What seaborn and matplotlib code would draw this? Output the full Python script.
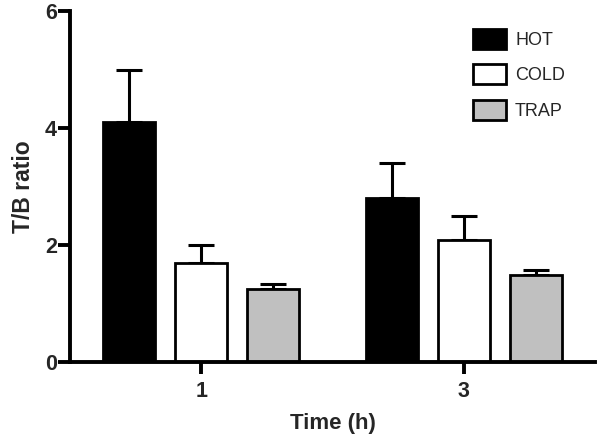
import matplotlib
matplotlib.use("Agg")
import matplotlib.pyplot as plt
from matplotlib.patches import Patch
import numpy as np
import pandas as pd
import seaborn as sns

# values (mean and upper SD)
times = ["1", "3"]
groups = ["HOT", "COLD", "TRAP"]
hot_mean = [4.10, 2.80]
hot_err = [0.90, 0.60]
cold_mean = [1.70, 2.08]
cold_err = [0.30, 0.42]
trap_mean = [1.24, 1.48]
trap_err = [0.10, 0.10]
colors = ["#000000", "#ffffff", "#c0c0c0"]

means = [hot_mean, cold_mean, trap_mean]
errs = [hot_err, cold_err, trap_err]
rows = []
for g, m_list, e_list in zip(groups, means, errs):
    for t, m, e in zip(times, m_list, e_list):
        rows.append({"time": t, "group": g, "ratio": m, "err": e})
df = pd.DataFrame(rows)

sns.set_style("ticks")
plt.rcParams["font.family"] = ["Liberation Sans", "DejaVu Sans"]

fig = plt.figure(figsize=(6.02, 4.41), dpi=100)
ax = fig.add_axes([70 / 602, 79 / 441, 525 / 602, 351 / 441])

sns.barplot(data=df, x="time", y="ratio", hue="group", hue_order=groups,
            order=times, palette=colors, width=0.825, gap=0.28,
            edgecolor="black", linewidth=2, errorbar=None, legend=False, ax=ax)

# upper-only error bars at the bar centres seaborn placed
bars = [p for p in ax.patches if p.get_height() > 0]
for bar, (_, row) in zip(bars, df.iterrows()):
    cx = bar.get_x() + bar.get_width() / 2
    ax.errorbar(cx, row["ratio"], yerr=[[0], [row["err"]]], fmt="none",
                ecolor="black", elinewidth=2.2, capsize=9.5, capthick=2.2,
                zorder=0.9)

ax.set_xlim(-0.5, 1.5)
ax.set_ylim(0, 6)
ax.set_yticks([0, 2, 4, 6])
sns.despine(ax=ax)
for side in ["left", "bottom"]:
    ax.spines[side].set_linewidth(2.8)
    ax.spines[side].set_color("black")
ax.tick_params(axis="both", length=8.5, width=2.8, color="black",
               labelsize=15.5)
ax.tick_params(axis="x", pad=5)
ax.tick_params(axis="y", pad=1)
for lbl in ax.get_xticklabels() + ax.get_yticklabels():
    lbl.set_fontweight("bold")

ax.set_xlabel("Time (h)", fontsize=16, fontweight="bold", labelpad=8)
ax.set_ylabel("T/B ratio", fontsize=16.5, fontweight="bold", labelpad=7)

handles = [Patch(facecolor=c, edgecolor="black", linewidth=2, label=g)
           for g, c in zip(groups, colors)]
ax.legend(handles=handles, loc="upper left", bbox_to_anchor=(0.767, 0.95),
          frameon=False, fontsize=13, borderpad=0, borderaxespad=0,
          handlelength=1.85, handleheight=1.35, labelspacing=0.85,
          handletextpad=0.5)

fig.savefig("out.png", dpi=100)
